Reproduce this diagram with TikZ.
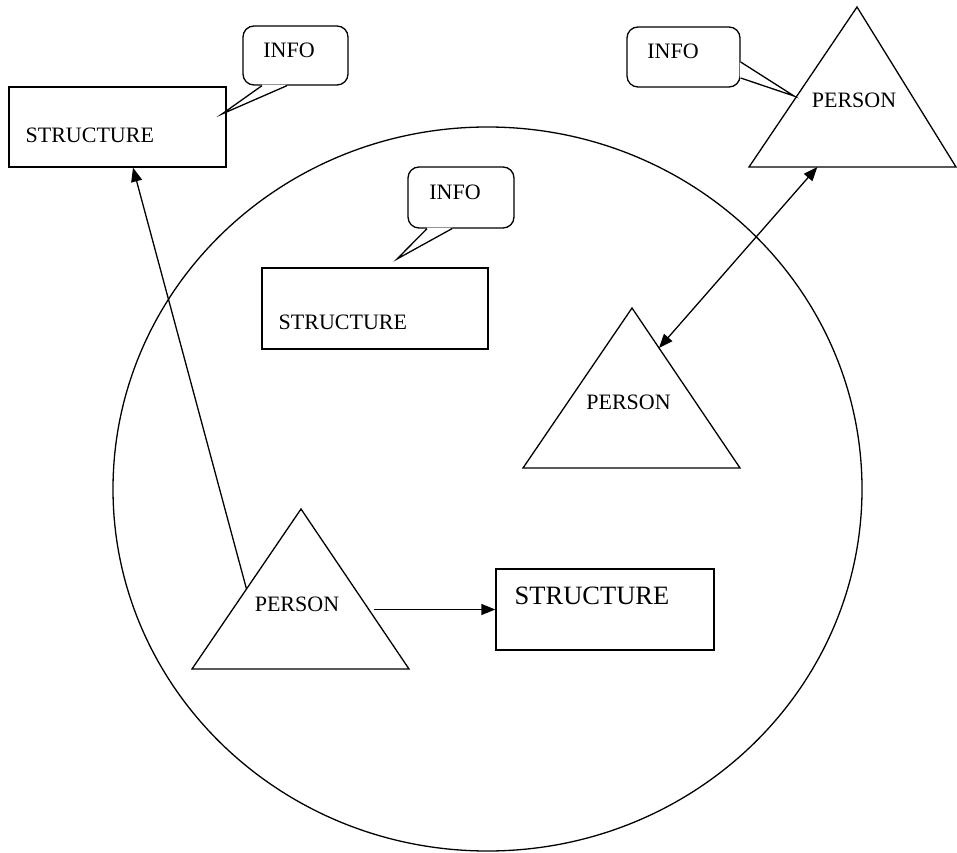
\documentclass[tikz,border=0pt]{standalone}
\usepackage{fontspec}
\setmainfont{Liberation Serif}
\usetikzlibrary{arrows.meta,calc}

\tikzset{
  box/.style={draw, minimum width=217, minimum height=80},
  bubble/.style={draw, fill=white, rounded corners=11pt, inner sep=0pt,
    text depth=11pt, font=\fontsize{22}{26}\selectfont},
  lbl/.style={inner sep=0pt, font=\fontsize{22}{26}\selectfont},
}

\begin{document}
\begin{tikzpicture}[x=1pt, y=1pt, line width=1.3pt,
    >={Triangle[length=14pt,width=11pt]}]
  \useasboundingbox (0,0) rectangle (957,852);
  % big circle
  \draw (487.5,363) ellipse [x radius=374.5, y radius=362];

  % structures
  \node[box] (s1) at (117.5,725) {};
  \node[box, minimum width=226, minimum height=81] (s2) at (375,543.5) {};
  \node[box, minimum width=218, minimum height=81] (s3) at (605,242.5) {};
  \node[lbl, anchor=base west] (t1) at (25,709) {STRUCTURE};
  \node[lbl, anchor=base west] (t2) at (278,522) {STRUCTURE};
  \node[lbl, anchor=base west, font=\fontsize{26.5}{30}\selectfont] (t3) at (514,248) {STRUCTURE};

  % persons
  \coordinate (p1a) at (857,845);
  \coordinate (p1l) at (749,685);
  \coordinate (p1r) at (956,685);
  \draw (p1a) -- (p1l) -- (p1r) -- cycle;
  \node[lbl] (p1) at (854,751.5) {PERSON};
  \coordinate (p2a) at (632,544);
  \coordinate (p2l) at (523,384);
  \coordinate (p2r) at (740,384);
  \draw (p2a) -- (p2l) -- (p2r) -- cycle;
  \node[lbl] (p2) at (628.5,449.5) {PERSON};
  \coordinate (p3a) at (301,343);
  \coordinate (p3l) at (192,183);
  \coordinate (p3r) at (409,183);
  \draw (p3a) -- (p3l) -- (p3r) -- cycle;
  \node[lbl] (p3) at (297,247.5) {PERSON};

  % info bubbles
  \node[bubble, minimum width=105, minimum height=59] (i1) at (295.5,796.5) {INFO\hspace{13pt}\mbox{}};
  \coordinate (i1t) at (222,738);
  \fill[white] ($(i1.south)+(-33.5,0.9)$) -- (i1t) -- ($(i1.south)+(-8.5,0.9)$) -- cycle;
  \draw ($(i1.south)+(-33.5,0)$) -- (i1t) -- ($(i1.south)+(-8.5,0)$);
  \node[bubble, minimum width=113, minimum height=60] (i2) at (683.5,795) {INFO\hspace{21pt}\mbox{}};
  \coordinate (i2t) at (794,756);
  \fill[white] ($(i2.east)+(-0.9,-5)$) -- (i2t) -- ($(i2.east)+(-0.9,-21)$) -- cycle;
  \draw ($(i2.east)+(0,-5)$) -- (i2t) -- ($(i2.east)+(0,-21)$);
  \node[bubble, minimum width=106, minimum height=61] (i3) at (461,654.5) {INFO\hspace{12pt}\mbox{}};
  \coordinate (i3t) at (397,593);
  \fill[white] ($(i3.south)+(-34,0.9)$) -- (i3t) -- ($(i3.south)+(-9,0.9)$) -- cycle;
  \draw ($(i3.south)+(-34,0)$) -- (i3t) -- ($(i3.south)+(-9,0)$);

  % links
  \draw[->] ($(p3a)!0.5!(p3l)$) -- ($(s1.south)+(15.5,0)$);
  \draw[->] (374,242.5) -- (s3.west);
  \draw[<->] ($(p2a)!0.25!(p2r)$) -- ($(p1l)!0.33!(p1r)$);
\end{tikzpicture}
\end{document}
